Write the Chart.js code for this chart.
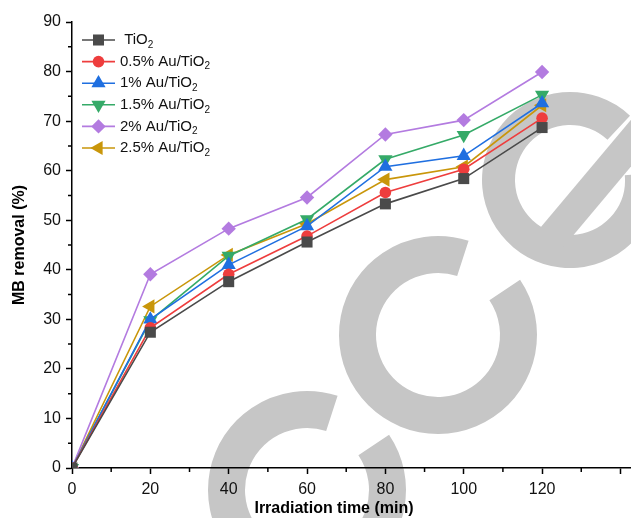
<!DOCTYPE html>
<html>
<head>
<meta charset="utf-8">
<script src="https://cdn.jsdelivr.net/npm/chart.js@4.4.1/dist/chart.umd.min.js"></script>
<style>
  html, body { margin: 0; padding: 0; background: #fff; }
  #wrap { width: 631px; height: 518px; }
</style>
</head>
<body>
<div id="wrap"><canvas id="mbChart" width="631" height="518"></canvas></div>
<script>
// Temps d'irradiation (min)
const temps = [0, 20, 40, 60, 80, 100, 120];

// Taux d'élimination du MB (%) pour chaque catalyseur
const tio2    = [0, 27.4, 37.6, 45.6, 53.3, 58.4, 68.7];
const au05    = [0, 28.3, 39.1, 46.8, 55.6, 60.3, 70.6];
const au1     = [0, 30.0, 41.0, 48.8, 60.8, 63.0, 73.6];
const au15    = [0, 29.8, 42.8, 50.2, 62.3, 67.2, 75.3];
const au2     = [0, 39.1, 48.3, 54.6, 67.3, 70.2, 79.9];
const au25    = [0, 32.6, 43.0, 49.3, 58.2, 60.8, 73.2];

const legendes = [' TiO2', '0.5% Au/TiO2', '1% Au/TiO2', '1.5% Au/TiO2', '2% Au/TiO2', '2.5% Au/TiO2'];

const police = 'Arial, "Liberation Sans", sans-serif';

// Paires (x, y) pour chaque série
function points(valeurs) {
    return temps.map((t, i) => ({ x: t, y: valeurs[i] }));
}

function serie(label, valeurs, couleur, style, rayon, rotation) {
    return {
        label: label,
        data: points(valeurs),
        borderColor: couleur,
        backgroundColor: couleur,
        borderWidth: 1.6,
        pointStyle: style,
        pointRadius: rayon,
        pointRotation: rotation,
        pointBorderWidth: 0,
        pointBackgroundColor: couleur,
        tension: 0
    };
}

// Filigrane gris (lettres « c c e » en diagonale) dessiné sous tout le reste
const filigrane = {
    id: 'filigrane',
    beforeDraw(chart) {
        const ctx = chart.ctx;
        const deg = Math.PI / 180;
        ctx.save();
        ctx.fillStyle = '#c6c6c6';
        const anneau = (cx, cy, R, r, a0, a1) => {
            ctx.beginPath();
            ctx.arc(cx, cy, R, a0 * deg, a1 * deg);
            ctx.arc(cx, cy, r, a1 * deg, a0 * deg, true);
            ctx.closePath();
            ctx.fill();
        };
        // les deux « c », ouverts vers le haut à droite
        anneau(307, 490, 99, 62, -34, 288);
        anneau(438, 335, 99, 62, -34, 288);
        // le « e » et sa barre
        anneau(570, 180, 88, 55, -5, 313);
        ctx.save();
        ctx.translate(570, 180);
        ctx.rotate(-50 * deg);
        ctx.beginPath();
        ctx.arc(0, 0, 88, 0, 2 * Math.PI);
        ctx.clip();
        ctx.fillRect(-60, 8, 150, 30);
        ctx.restore();
        ctx.restore();
    }
};

// Petites graduations, titre de l'axe x et légende
const habillage = {
    id: 'habillage',
    afterDraw(chart) {
        const ctx = chart.ctx;
        const sx = chart.scales.x;
        const sy = chart.scales.y;
        const area = chart.chartArea;
        ctx.save();
        ctx.strokeStyle = '#000';
        ctx.lineWidth = 1.5;
        ctx.beginPath();
        for (let v = 10; v <= sx.max; v += 20) {
            const px = sx.getPixelForValue(v);
            ctx.moveTo(px, area.bottom);
            ctx.lineTo(px, area.bottom + 4);
        }
        for (let v = 5; v <= sy.max; v += 10) {
            const py = sy.getPixelForValue(v);
            ctx.moveTo(area.left, py);
            ctx.lineTo(area.left - 4, py);
        }
        ctx.stroke();

        ctx.fillStyle = '#000';
        ctx.font = 'bold 16px ' + police;
        ctx.textAlign = 'center';
        ctx.textBaseline = 'middle';
        ctx.fillText('Irradiation time (min)', 334, 509);

        // légende
        const x0 = 82, x1 = 115, xt = 120;
        chart.data.datasets.forEach((ds, i) => {
            const y = 40 + i * 21.6;
            ctx.strokeStyle = ds.borderColor;
            ctx.lineWidth = 1.6;
            ctx.beginPath();
            ctx.moveTo(x0, y);
            ctx.lineTo(x1, y);
            ctx.stroke();
            ctx.fillStyle = ds.borderColor;
            Chart.helpers.drawPoint(ctx, {
                pointStyle: ds.pointStyle,
                rotation: ds.pointRotation,
                radius: ds.pointRadius,
                borderWidth: 0
            }, (x0 + x1) / 2, y);

            ctx.fillStyle = '#111';
            ctx.textAlign = 'left';
            ctx.textBaseline = 'middle';
            const txt = ds.label.replace(/2$/, '');
            ctx.font = '15px ' + police;
            ctx.fillText(txt, xt, y);
            const w = ctx.measureText(txt).width;
            ctx.font = '10px ' + police;
            ctx.fillText('2', xt + w, y + 5);
        });
        ctx.restore();
    }
};

const ctx = document.getElementById('mbChart').getContext('2d');
const myChart = new Chart(ctx, {
    type: 'line',
    data: {
        datasets: [
            serie(legendes[0], tio2, '#4a4a4a', 'rect', 7.8, 0),
            serie(legendes[1], au05, '#ee3d3d', 'circle', 5.8, 0),
            serie(legendes[2], au1,  '#1f6fe0', 'triangle', 8.2, 0),
            serie(legendes[3], au15, '#35aa68', 'triangle', 8.2, 180),
            serie(legendes[4], au2,  '#b37be0', 'rectRot', 7.2, 0),
            serie(legendes[5], au25, '#c9960a', 'triangle', 8.2, -90)
        ]
    },
    options: {
        responsive: false,
        animation: false,
        layout: { autoPadding: false, padding: { top: 22, right: 0, left: 0, bottom: 0 } },
        plugins: {
            legend: { display: false },
            tooltip: { enabled: false }
        },
        scales: {
            x: {
                type: 'linear',
                min: 0,
                max: 142.7,
                afterFit: s => { s.height = 50; s.paddingLeft = 0; s.paddingRight = 0; },
                ticks: {
                    stepSize: 20,
                    includeBounds: false,
                    padding: 6,
                    color: '#111',
                    font: { size: 16, family: police },
                    maxRotation: 0,
                    callback: v => (v <= 120 ? v : '')
                },
                grid: { drawOnChartArea: false, drawTicks: true, tickLength: 6, tickWidth: 1.5, tickColor: '#000' },
                border: { display: true, color: '#000', width: 1.5 }
            },
            y: {
                min: 0,
                max: 90,
                afterFit: s => { s.width = 72; },
                ticks: {
                    stepSize: 10,
                    padding: 5,
                    color: '#111',
                    font: { size: 16, family: police }
                },
                title: {
                    display: true,
                    text: 'MB removal (%)',
                    color: '#000',
                    font: { size: 16, weight: 'bold', family: police },
                    padding: { top: 10, bottom: 0 }
                },
                grid: { drawOnChartArea: false, drawTicks: true, tickLength: 6, tickWidth: 1.5, tickColor: '#000' },
                border: { display: true, color: '#000', width: 1.5 }
            }
        }
    },
    plugins: [filigrane, habillage]
});
</script>
</body>
</html>
